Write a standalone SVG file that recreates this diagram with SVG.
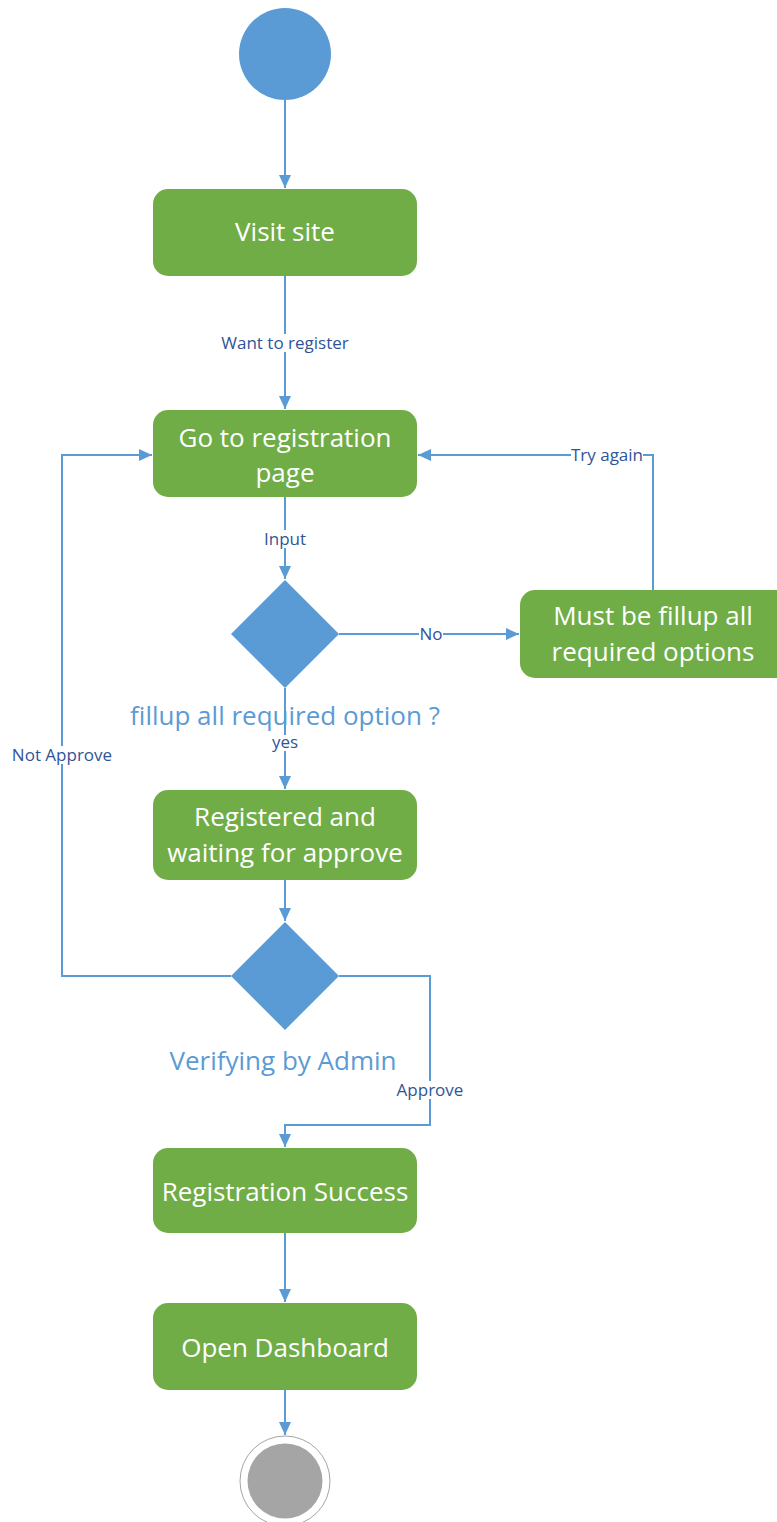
<svg xmlns="http://www.w3.org/2000/svg" width="777" height="1522" viewBox="0 0 777 1522">
<style>
.act{fill:#70AD47}
.dec{fill:#5B9BD5}
.at{font-family:"Open Sans","Noto Sans",sans-serif;font-size:26px;fill:#FFFFFF;text-anchor:middle}
.dl{font-family:"Open Sans","Noto Sans",sans-serif;font-size:26px;fill:#5B9BD5;text-anchor:middle}
.cl{font-family:"Open Sans","Noto Sans",sans-serif;font-size:17px;fill:#2F5597;text-anchor:middle}
.bg{fill:#FFFFFF}
.ln{fill:none;stroke:#5B9BD5;stroke-width:2}
</style>
<defs>
<marker id="arr" markerUnits="userSpaceOnUse" markerWidth="14" markerHeight="14" viewBox="0 0 14 14" refX="13" refY="7" orient="auto">
<path d="M0,1 L13,7 L0,13 Z" fill="#5B9BD5"/>
</marker>
</defs>
<g id="connectors">
<path class="ln" d="M285,100 V188" marker-end="url(#arr)"/>
<path class="ln" d="M285,276 V409" marker-end="url(#arr)"/>
<path class="ln" d="M285,497 V579" marker-end="url(#arr)"/>
<path class="ln" d="M339,634 H519" marker-end="url(#arr)"/>
<path class="ln" d="M653,590 V455 H418" marker-end="url(#arr)"/>
<path class="ln" d="M285,688 V789" marker-end="url(#arr)"/>
<path class="ln" d="M285,880 V921" marker-end="url(#arr)"/>
<path class="ln" d="M231,976 H62 V455 H152" marker-end="url(#arr)"/>
<path class="ln" d="M339,976 H430 V1125 H285 V1147" marker-end="url(#arr)"/>
<path class="ln" d="M285,1233 V1302" marker-end="url(#arr)"/>
<path class="ln" d="M285,1390 V1435" marker-end="url(#arr)"/>
<rect class="bg" x="220" y="334" width="130" height="18"/>
<text class="cl" x="285" y="349">Want to register</text>
<rect class="bg" x="264" y="530" width="42" height="18"/>
<text class="cl" x="285" y="545">Input</text>
<rect class="bg" x="571" y="446" width="72" height="18"/>
<text class="cl" x="607" y="461">Try again</text>
<rect class="bg" x="419" y="625" width="24" height="18"/>
<text class="cl" x="431" y="640">No</text>
<rect class="bg" x="270" y="735" width="30" height="16"/>
<text class="cl" x="285" y="748">yes</text>
<rect class="bg" x="11" y="746" width="102" height="18"/>
<text class="cl" x="62" y="761">Not Approve</text>
<rect class="bg" x="396" y="1081" width="68" height="18"/>
<text class="cl" x="430" y="1096">Approve</text>
</g>
<g id="start"><circle cx="285" cy="54" r="46" fill="#5B9BD5"/></g>
<g id="visit"><rect class="act" x="153" y="189" width="264" height="87" rx="15"/><text class="at" x="285" y="241">Visit site</text></g>
<g id="goreg"><rect class="act" x="153" y="410" width="264" height="87" rx="15"/><text class="at" x="285" y="447">Go to registration</text><text class="at" x="285" y="482">page</text></g>
<g id="dec1"><polygon class="dec" points="285,580 339,634 285,688 231,634"/><text class="dl" x="285" y="725">fillup all required option ?</text></g>
<g id="mustbe"><rect class="act" x="520" y="590" width="270" height="88" rx="15"/><text class="at" x="653" y="625">Must be fillup all</text><text class="at" x="653" y="661">required options</text></g>
<g id="registered"><rect class="act" x="153" y="790" width="264" height="90" rx="15"/><text class="at" x="285" y="826">Registered and</text><text class="at" x="285" y="862">waiting for approve</text></g>
<g id="dec2"><polygon class="dec" points="285,922 339,976 285,1030 231,976"/><text class="dl" x="283" y="1070">Verifying by Admin</text></g>
<g id="success"><rect class="act" x="153" y="1148" width="264" height="85" rx="15"/><text class="at" x="285" y="1201">Registration Success</text></g>
<g id="dashboard"><rect class="act" x="153" y="1303" width="264" height="87" rx="15"/><text class="at" x="285" y="1357">Open Dashboard</text></g>
<g id="end"><circle cx="285" cy="1481" r="45" fill="#FFFFFF" stroke="#A5A5A5" stroke-width="1"/><circle cx="285" cy="1481" r="37.5" fill="#A5A5A5"/></g>
</svg>
